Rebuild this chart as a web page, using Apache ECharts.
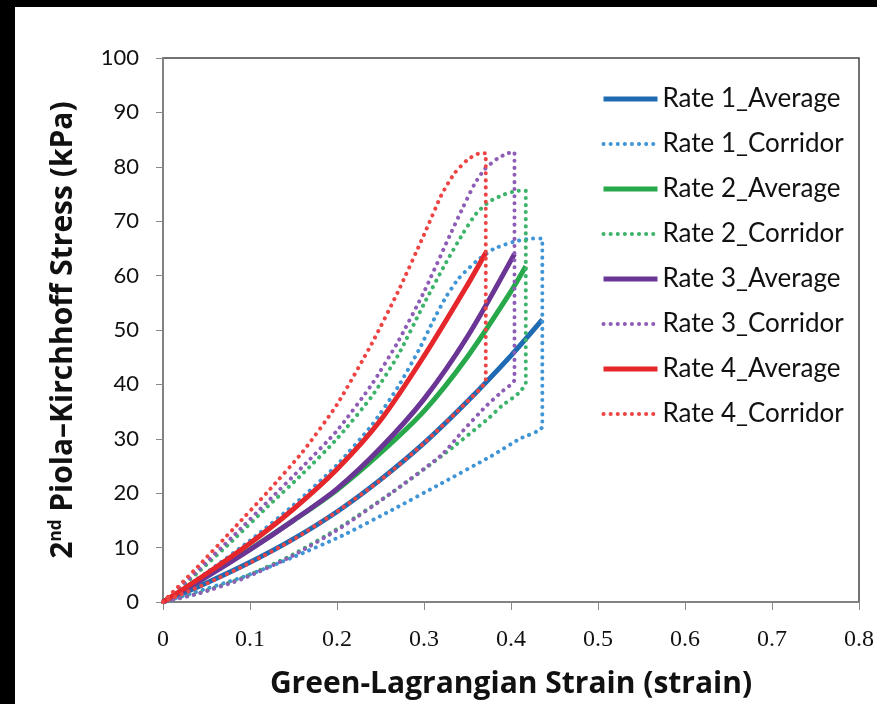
<!DOCTYPE html>
<html>
<head>
<meta charset="utf-8">
<script src="https://cdn.jsdelivr.net/npm/echarts@6/dist/echarts.min.js"></script>
<style>
  html, body { margin: 0; padding: 0; background: #000; width: 877px; height: 704px; overflow: hidden; }
  #chart { position: absolute; left: 15px; top: 7px; width: 862px; height: 697px; background: #fff; }
</style>
</head>
<body>
<div id="chart"></div>
<script>
// [strain, stress kPa]
const rate1Average = [[0, 0], [0.05, 3.5], [0.1, 7.3], [0.15, 11.6], [0.2, 16.6], [0.25, 22.5], [0.3, 29.2], [0.35, 36.9], [0.4, 45.3], [0.436, 51.9]];
const rate1Corridor = [[0, 0], [0.05, 5.4], [0.1, 11.3], [0.15, 17.8], [0.2, 25.2], [0.24, 32.5], [0.27, 39.5], [0.295, 46.6], [0.31, 51.5], [0.325, 56], [0.34, 59.5], [0.36, 62.6], [0.38, 64.9], [0.405, 66.3], [0.425, 66.8], [0.436, 66.8],
  [0.436, 32.3], [0.41, 30], [0.377, 26.8], [0.32, 21.8], [0.263, 16.9], [0.206, 12.2], [0.149, 8.2], [0.092, 4.6], [0.035, 1.7], [0, 0]];

const rate2Average = [[0, 0], [0.05, 4.7], [0.1, 9.7], [0.15, 15], [0.2, 20.6], [0.25, 27.4], [0.3, 35.1], [0.35, 45.1], [0.4, 57.1], [0.417, 61.7]];
const rate2Corridor = [[0, 0], [0.04, 5.4], [0.08, 11.3], [0.12, 17.5], [0.16, 23.5], [0.2, 30], [0.24, 37.8], [0.27, 45.3], [0.3, 54.8], [0.325, 62.3], [0.345, 67.8], [0.36, 71.4], [0.375, 73.6], [0.392, 74.9], [0.408, 75.6], [0.417, 75.6],
  [0.417, 40.3], [0.408, 38.3], [0.389, 36], [0.373, 33.6], [0.32, 26.8], [0.263, 20.1], [0.206, 14], [0.149, 8.7], [0.092, 4.5], [0.04, 1.6], [0, 0]];

const rate3Average = [[0, 0], [0.05, 4.6], [0.1, 9.6], [0.15, 15], [0.2, 20.8], [0.25, 28.3], [0.3, 37.3], [0.35, 48.8], [0.404, 64]];
const rate3Corridor = [[0, 0], [0.04, 5.8], [0.08, 12], [0.12, 18.4], [0.16, 24.8], [0.2, 31.5], [0.24, 40], [0.27, 47.8], [0.3, 57], [0.33, 67.5], [0.345, 72.6], [0.358, 76.8], [0.37, 79.6], [0.385, 81.6], [0.397, 82.5], [0.404, 82.7],
  [0.404, 40.9], [0.389, 38.6], [0.37, 35.8], [0.345, 31.5], [0.32, 27], [0.263, 20.1], [0.206, 13.8], [0.149, 8.5], [0.092, 4.3], [0.04, 1.5], [0, 0]];

const rate4Average = [[0, 0], [0.05, 5.2], [0.1, 10.8], [0.15, 17.1], [0.2, 24.4], [0.25, 33.4], [0.3, 45.2], [0.35, 58.3], [0.371, 64.2]];
const rate4Corridor = [[0, 0], [0.04, 6.5], [0.08, 13.3], [0.12, 20.2], [0.16, 27.5], [0.2, 36.3], [0.24, 47.5], [0.27, 57], [0.3, 67.5], [0.32, 74.8], [0.335, 78.8], [0.35, 81.3], [0.362, 82.4], [0.371, 82.5],
  [0.371, 40.9], [0.35, 36.9], [0.3, 29.2], [0.25, 22.4], [0.2, 16.6], [0.15, 11.5], [0.1, 7.2], [0.05, 3.4], [0, 0]];

const chart = echarts.init(document.getElementById("chart"));

function averageSeries(name, data, color) {
  return {
    name, type: "line", data, symbol: "none", showSymbol: false, smooth: 0.3,
    lineStyle: { color, width: 5 },
    itemStyle: { color },
  };
}

function corridorSeries(name, data, color) {
  return {
    name, type: "line", data, symbol: "none", showSymbol: false, smooth: 0.2,
    lineStyle: { color, width: 4, type: [0.1, 7], cap: "round" },
    itemStyle: { color },
  };
}

const option = {
  animation: false,
  backgroundColor: "#fff",
  grid: {
    left: 148, top: 51, right: 13, bottom: 101,
    show: true, borderColor: "#444", borderWidth: 1.5, backgroundColor: "transparent",
  },
  legend: {
    orient: "vertical",
    left: 581, top: 74,
    itemWidth: 54, itemHeight: 14, itemGap: 19,
    itemStyle: { opacity: 0 },
    lineStyle: { width: "inherit" },
    textStyle: { fontFamily: "Lato", fontSize: 26, color: "#111" },
  },
  xAxis: {
    type: "value", min: 0, max: 0.8, interval: 0.1,
    name: "Green-Lagrangian Strain (strain)",
    nameLocation: "middle", nameGap: 67,
    nameTextStyle: { fontFamily: "Open Sans", fontWeight: "bold", fontSize: 30, color: "#111" },
    axisLine: { lineStyle: { color: "#888", width: 1.5 } },
    axisTick: { show: true, length: 8, lineStyle: { color: "#888" } },
    axisLabel: { fontFamily: "Liberation Serif", fontSize: 24, color: "#111", margin: 26 },
    splitLine: { show: false },
  },
  yAxis: {
    type: "value", min: 0, max: 100, interval: 10,
    name: "2{sup|nd} Piola–Kirchhoff Stress (kPa)",
    nameLocation: "middle", nameGap: 85,
    nameTextStyle: {
      fontFamily: "Open Sans", fontWeight: "bold", fontSize: 30, color: "#111",
      rich: { sup: { fontFamily: "Open Sans", fontWeight: "bold", fontSize: 17, color: "#111", verticalAlign: "top", padding: [0, 0, 12, 0] } },
    },
    axisLine: { show: true, lineStyle: { color: "#888", width: 1.5 } },
    axisTick: { show: true, length: 7, lineStyle: { color: "#888" } },
    axisLabel: { fontFamily: "Lato", fontSize: 22, color: "#111", margin: 24 },
    splitLine: { show: false },
  },
  series: [
    averageSeries("Rate 1_Average", rate1Average, "#1F6BB3"),
    corridorSeries("Rate 1_Corridor", rate1Corridor, "#3F95D6"),
    averageSeries("Rate 2_Average", rate2Average, "#27A84A"),
    corridorSeries("Rate 2_Corridor", rate2Corridor, "#3DB36B"),
    averageSeries("Rate 3_Average", rate3Average, "#6A3595"),
    corridorSeries("Rate 3_Corridor", rate3Corridor, "#8E5DB5"),
    averageSeries("Rate 4_Average", rate4Average, "#E5262B"),
    corridorSeries("Rate 4_Corridor", rate4Corridor, "#EE4444"),
  ],
};

chart.setOption(option);
</script>
</body>
</html>
